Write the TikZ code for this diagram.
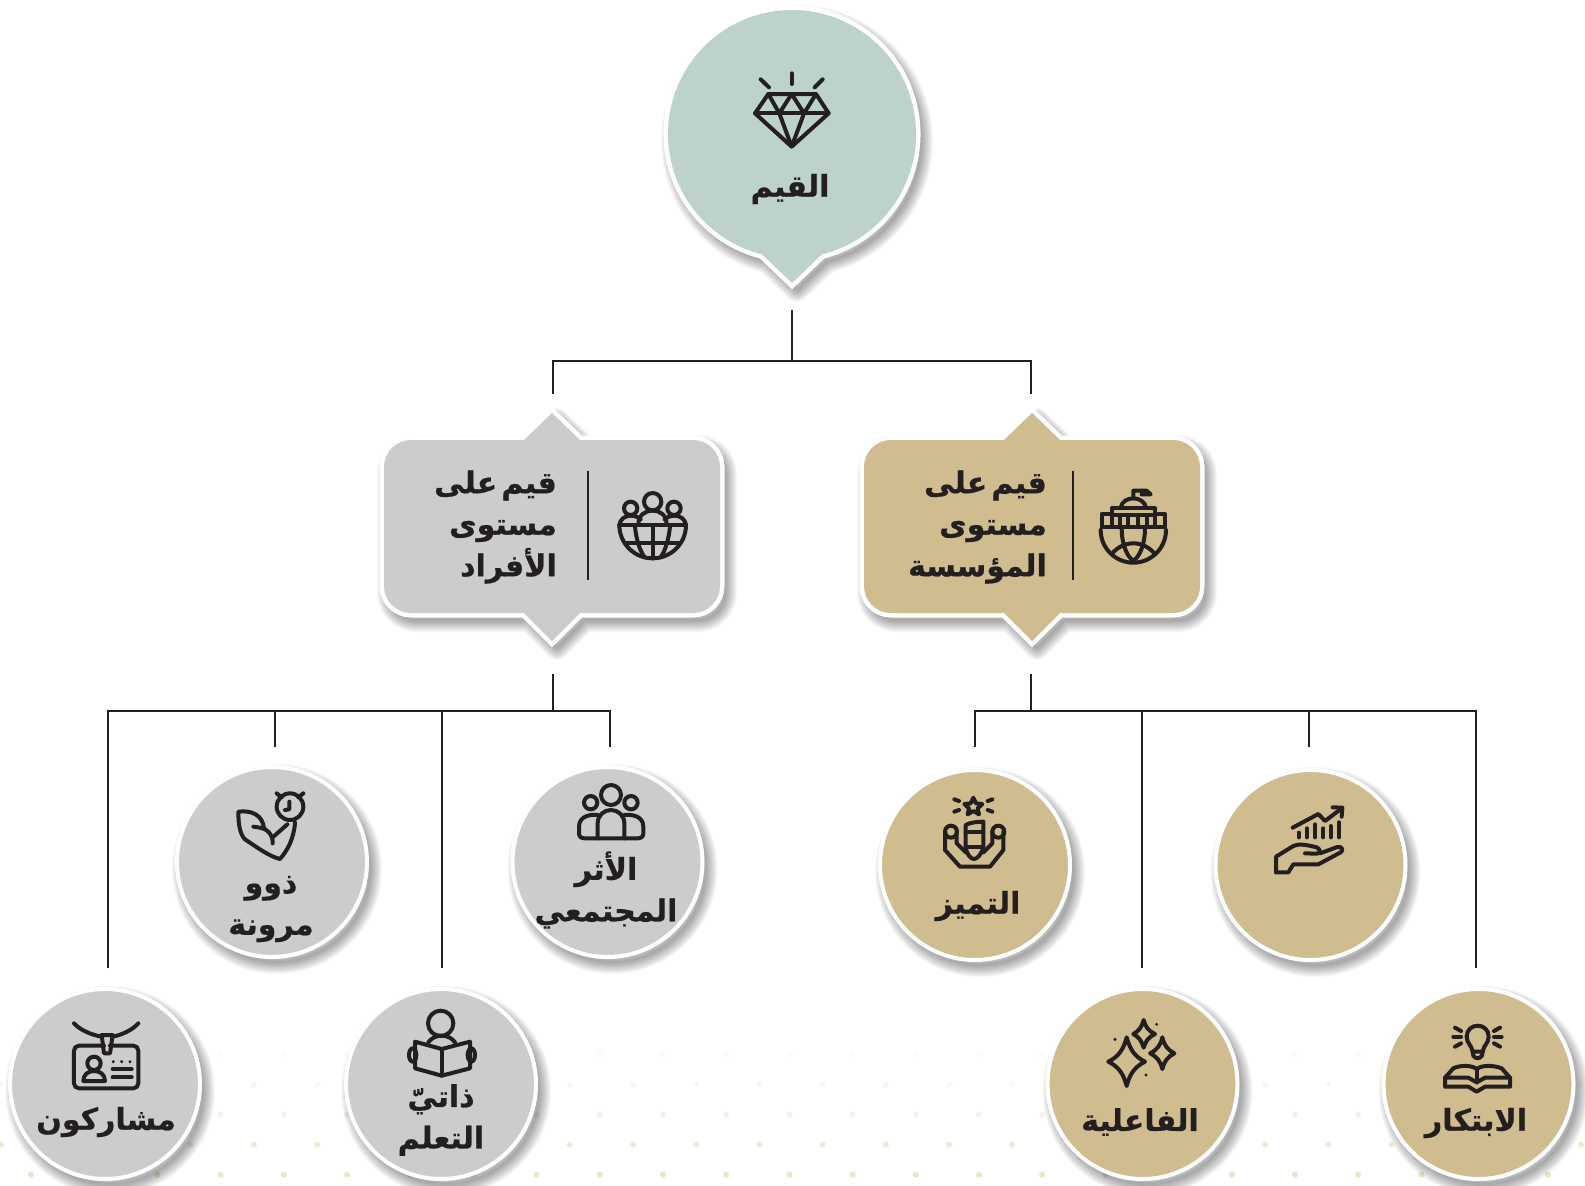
\documentclass[tikz,border=0pt]{standalone}
\usepackage{fontspec}
\newfontfamily\arabicfont[Script=Arabic,WordSpace=0.4,BoldFeatures={FakeBold=0.6}]{DejaVu Sans}
\TeXXeTstate=1
\definecolor{ink}{HTML}{231F20}
\definecolor{sage}{HTML}{BDD3CA}
\definecolor{greyfill}{HTML}{CCCCCC}
\definecolor{tan}{HTML}{CFBC8F}
\definecolor{dotc}{HTML}{EBE5CC}
\newcommand\ar[1]{\beginR #1\endR}
\newcommand\softshadow[1]{%
  \foreach \w in {24,22,...,2}{\path[draw=black,line join=round,opacity=.032,line width=\w pt,shift={(5,7)}] #1;}%
}
\newcommand\tagpath[1]{({#1-141},440) -- ({#1-28},440) -- (#1,413) -- ({#1+28},440) -- ({#1+141},440) arc[start angle=-90,end angle=0,radius=27] -- ({#1+168},586) arc[start angle=0,end angle=90,radius=27] -- ({#1+28},613) -- (#1,641) -- ({#1-28},613) -- ({#1-141},613) arc[start angle=90,end angle=180,radius=27] -- ({#1-168},467) arc[start angle=180,end angle=270,radius=27] -- cycle}
\newcommand\rootpath{({792+124*cos(104)},{134+124*sin(104)}) -- (792,283) -- ({792+124*cos(76)},{134+124*sin(76)}) arc[start angle=76,end angle=-256,radius=124] -- cycle}
\newcommand\valcircle[4]{%
  \softshadow{({#2},{#3}) circle[radius=93]}%
  \node[valnode,fill=#4] (#1) at (#2,#3) {};%
}
\tikzset{
  link/.style={draw=ink,line width=2.7pt},
  lbl/.style={text=ink,align=center,inner sep=0pt,font=\arabicfont\bfseries\fontsize{30}{41.5}\selectfont},
  taglbl/.style={lbl,align=right,anchor=east,font=\arabicfont\bfseries\fontsize{30}{41.5}\selectfont},
  valnode/.style={circle,draw=white,line width=4pt,inner sep=0pt,minimum size=190pt},
  icon/.style={draw=ink,line width=4pt,line cap=round,line join=round},
  zoomed/.style={x=.33333pt,y=-.33333pt},
  rule/.style={draw=ink,line width=2.6pt}
}
\begin{document}
\begin{tikzpicture}[x=1pt,y=-1pt]
\path[fill=white,use as bounding box] (0,0) rectangle (1585,1186);
% dotted ground
\foreach \k in {0,...,24}{
  \fill[dotc] ({31+63.2*\k},1174.7) circle[radius=3];
  \fill[dotc,opacity=.5] ({31+63.2*\k},1114.7) circle[radius=3];
  \fill[dotc,opacity=.12] ({31+63.2*\k},1054.7) circle[radius=3];
}
\foreach \k in {0,...,25}{
  \fill[dotc,opacity=.8] ({1+63.2*\k},1144.7) circle[radius=3];
  \fill[dotc,opacity=.28] ({1+63.2*\k},1084.7) circle[radius=3];
}
% connector points
\coordinate (rootout) at (792,310);
\coordinate (rootjoin) at (792,361);
\coordinate (joinL) at (553,361);
\coordinate (joinR) at (1031,361);
\coordinate (inL) at (553,394);
\coordinate (inR) at (1031,394);
\coordinate (outL) at (553,674);
\coordinate (midL) at (553,711);
\coordinate (outR) at (1031,674);
\coordinate (midR) at (1031,711);
\coordinate (a1) at (108,711); \coordinate (a1e) at (108,968);
\coordinate (a2) at (275,711); \coordinate (a2e) at (275,747);
\coordinate (a3) at (442,711); \coordinate (a3e) at (442,968);
\coordinate (a4) at (610,711); \coordinate (a4e) at (610,747);
\coordinate (b1) at (975,711); \coordinate (b1e) at (975,747);
\coordinate (b2) at (1142,711); \coordinate (b2e) at (1142,968);
\coordinate (b3) at (1309,711); \coordinate (b3e) at (1309,747);
\coordinate (b4) at (1476,711); \coordinate (b4e) at (1476,968);
\draw[link] (rootout) -- (rootjoin);
\draw[link,line join=miter] (inL) -- (joinL) -- (joinR) -- (inR);
\draw[link] (outL) -- (midL);
\draw[link] (outR) -- (midR);
\draw[link,line join=miter] (a1e) -- (a1) -- (a4) -- (a4e);
\draw[link] (a2) -- (a2e);
\draw[link] (a3) -- (a3e);
\draw[link,line join=miter] (b1e) -- (b1) -- (b4) -- (b4e);
\draw[link] (b2) -- (b2e);
\draw[link] (b3) -- (b3e);
% root
\softshadow{\rootpath}
\path[draw=white,fill=white,line width=9pt,line join=miter] \rootpath;
\fill[sage] \rootpath;
\node[lbl] (rootlbl) at (790,189) {\ar{القيم}};
% tag boxes
\softshadow{\tagpath{552}}
\path[draw=white,fill=white,line width=9pt,line join=miter] \tagpath{552};
\fill[greyfill] \tagpath{552};
\softshadow{\tagpath{1032}}
\path[draw=white,fill=white,line width=9pt,line join=miter] \tagpath{1032};
\fill[tan] \tagpath{1032};
\node[taglbl] (taglblL) at (557,527) {\ar{قيم على}\\\ar{مستوى}\\\ar{الأفراد}};
\node[taglbl] (taglblR) at (1047,527) {\ar{قيم على}\\\ar{مستوى}\\\ar{المؤسسة}};
\coordinate (ruleLa) at (588,471); \coordinate (ruleLb) at (588,580);
\coordinate (ruleRa) at (1073,471); \coordinate (ruleRb) at (1073,580);
\draw[rule] (ruleLa) -- (ruleLb);
\draw[rule] (ruleRa) -- (ruleRb);
% circles
\valcircle{c1}{272}{862}{greyfill}
\valcircle{c2}{607.5}{862}{greyfill}
\valcircle{c3}{975}{865}{tan}
\valcircle{c4}{1310.5}{865}{tan}
\valcircle{c5}{105}{1084}{greyfill}
\valcircle{c6}{441}{1084}{greyfill}
\valcircle{c7}{1142.5}{1084}{tan}
\valcircle{c8}{1478.5}{1084}{tan}
\node[lbl] (l1) at (271,909) {\ar{ذوو}\\\ar{مرونة}};
\node[lbl] (l2) at (606,890) {\ar{الأثر}\\\ar{المجتمعي}};
\node[lbl] (l3) at (978,906) {\ar{التميز}};
\node[lbl] (l5) at (106,1122) {\ar{مشاركون}};
\node[lbl] (l6) at (441,1120) {\ar{ذاتيّ}\\\ar{التعلم}};
\node[lbl] (l7) at (1140,1122) {\ar{الفاعلية}};
\node[lbl] (l8) at (1476,1123) {\ar{الابتكار}};
% diamond icon
\begin{scope}[shift={(640,0)},zoomed]
\draw[icon] (385,282) -- (528,282) -- (566,340) -- (455,440) -- (345,340) -- cycle;
\draw[icon] (345,340) -- (566,340);
\draw[icon] (385,282) -- (418,340) -- (455,282) -- (492,340) -- (528,282);
\draw[icon] (418,340) -- (455,440) -- (492,340);
\draw[icon] (362,238) -- (387,262);
\draw[icon] (455,220) -- (455,252);
\draw[icon] (548,238) -- (524,262);
\end{scope}
% globe of people
\begin{scope}[shift={(370,400)},zoomed]
\draw[icon] (848,305) circle[radius=26];
\draw[icon] (782,325) circle[radius=20];
\draw[icon] (912,325) circle[radius=20];
\draw[icon] (748,375) arc[start angle=180,end angle=0,radius=100];
\draw[icon] (748,375) -- (948,375);
\draw[icon] (768,430) -- (928,430);
\draw[icon] (805,375) .. controls (805,345) and (825,332) .. (848,332) .. controls (871,332) and (890,345) .. (890,375);
\draw[icon] (748,375) .. controls (750,358) and (765,347) .. (782,347) .. controls (795,347) and (805,352) .. (812,358);
\draw[icon] (948,375) .. controls (946,358) and (931,347) .. (914,347) .. controls (901,347) and (891,352) .. (884,358);
\draw[icon] (848,375) -- (848,475);
\draw[icon] (795,378) .. controls (798,415) and (808,450) .. (824,472);
\draw[icon] (900,378) .. controls (897,415) and (887,450) .. (872,472);
\end{scope}
% capitol globe
\begin{scope}[shift={(850,400)},zoomed]
\draw[icon] (752,390) arc[start angle=180,end angle=0,radius=98];
\draw[icon] (755,380) -- (755,342) -- (785,342) -- (785,325) -- (915,325) -- (915,342) -- (945,342) -- (945,380) -- cycle;
\draw[icon] (785,345) -- (915,345);
\foreach \p in {785,810,835,865,890,915}{\draw[icon] (\p,345) -- (\p,380);}
\draw[icon] (812,323) .. controls (815,305) and (832,295) .. (850,295) .. controls (868,295) and (885,305) .. (888,323);
\draw[icon] (850,295) -- (850,272) -- (890,272) -- (902,283) -- (875,283);
\draw[icon] (815,385) .. controls (815,430) and (830,470) .. (850,482) .. controls (870,470) and (885,430) .. (885,385);
\draw[icon] (785,462) .. controls (805,438) and (830,430) .. (850,430) .. controls (870,430) and (895,438) .. (915,462);
\end{scope}
% flexed arm with clock
\begin{scope}[shift={(170,760)},zoomed]
\draw[icon] (360,140) circle[radius=40];
\draw[icon] (320,100) -- (335,112);
\draw[icon] (400,100) -- (385,112);
\draw[icon] (358,125) -- (358,148) -- (345,150);
\draw[icon] (375,188) .. controls (372,235) and (352,272) .. (330,297) .. controls (300,290) and (265,265) .. (225,238) .. controls (212,225) and (205,200) .. (205,155) .. controls (245,150) and (278,165) .. (282,205);
\draw[icon] (250,200) -- (270,203) .. controls (290,205) and (310,225) .. (308,250);
\draw[icon] (308,232) -- (352,193);
\end{scope}
% three people
\begin{scope}[shift={(505,760)},zoomed]
\draw[icon] (318,105) circle[radius=30];
\draw[icon] (257,128) circle[radius=20];
\draw[icon] (378,128) circle[radius=20];
\draw[icon] (278,235) -- (278,190) .. controls (278,165) and (298,150) .. (318,150) .. controls (338,150) and (358,165) .. (358,190) -- (358,235);
\draw[icon] (278,165) .. controls (262,163) and (222,165) .. (222,200) -- (222,220) .. controls (222,230) and (228,235) .. (240,235) -- (398,235) .. controls (408,235) and (415,230) .. (415,220) -- (415,200) .. controls (415,165) and (375,163) .. (358,165);
\end{scope}
% star over raised hands
\begin{scope}[shift={(875,765)},zoomed]
\draw[icon] (295,98) -- (303,115) -- (322,117) -- (308,130) -- (312,148) -- (295,138) -- (278,148) -- (282,130) -- (268,117) -- (287,115) -- cycle;
\draw[icon] (238,103) -- (252,108);
\draw[icon] (238,140) -- (252,135);
\draw[icon] (352,103) -- (338,108);
\draw[icon] (352,140) -- (338,135);
\draw[icon] (272,245) -- (272,180) .. controls (285,172) and (310,170) .. (325,170) -- (325,245) .. controls (320,270) and (305,282) .. (297,282) .. controls (288,282) and (275,270) .. (272,245);
\draw[icon] (272,200) -- (325,200);
\draw[icon] (272,245) -- (325,245);
\draw[icon] (228,200) circle[radius=18];
\draw[icon] (370,200) circle[radius=18];
\draw[icon] (210,200) -- (210,255) -- (255,305) -- (345,305) -- (385,255) -- (385,200);
\draw[icon] (245,200) -- (245,235) -- (272,262);
\draw[icon] (352,200) -- (352,235) -- (325,262);
\end{scope}
% hand with chart
\begin{scope}[shift={(1210,765)},zoomed]
\draw[icon] (248,188) -- (325,147) -- (345,168) -- (395,130);
\draw[icon] (368,127) -- (397,128) -- (395,155);
\foreach \p/\q in {266/203,290/190,315/178,340/190,362/183,387/172}{\draw[icon] (\p,\q) -- (\p,217);}
\draw[icon] (198,322) -- (198,275) -- (250,243) .. controls (265,236) and (285,238) .. (320,247) .. controls (332,252) and (332,265) .. (320,266) -- (285,265);
\draw[icon] (198,322) -- (235,322) -- (250,298) -- (325,298) -- (392,262) .. controls (402,255) and (395,243) .. (382,246) -- (330,265);
\end{scope}
% badge
\begin{scope}[shift={(0,985)},zoomed]
\draw[icon] (222,115) .. controls (240,135) and (275,150) .. (305,155);
\draw[icon] (415,115) .. controls (397,135) and (365,150) .. (338,155);
\draw[icon] (305,150) -- (338,150) -- (330,205) -- (312,205) -- cycle;
\draw[icon,rounded corners=5pt] (312,182) -- (222,182) -- (222,310) -- (415,310) -- (415,182) -- (330,182);
\draw[icon] (282,235) circle[radius=20];
\draw[icon] (250,288) .. controls (250,268) and (265,258) .. (282,258) .. controls (300,258) and (315,268) .. (315,288) -- cycle;
\foreach \p in {340,365,390}{\fill[ink] (\p,230) circle[radius=5];}
\draw[icon] (338,252) -- (395,252);
\draw[icon] (338,277) -- (395,277);
\end{scope}
% reader
\begin{scope}[shift={(340,985)},zoomed]
\draw[icon] (302,115) circle[radius=38];
\draw[icon] (225,170) -- (305,192) -- (390,170) -- (390,250) -- (305,272) -- (225,250) -- cycle;
\draw[icon] (305,192) -- (305,272);
\draw[icon] (265,172) .. controls (275,158) and (290,152) .. (305,152) .. controls (320,152) and (335,158) .. (345,172);
\draw[icon] (218,210) ellipse[x radius=11,y radius=20];
\draw[icon] (394,210) ellipse[x radius=11,y radius=20];
\end{scope}
% sparkles
\begin{scope}[shift={(1040,985)},zoomed]
\draw[icon] (260,157) .. controls (270,195) and (285,215) .. (315,230) .. controls (285,245) and (270,265) .. (260,303) .. controls (250,265) and (235,245) .. (205,230) .. controls (235,215) and (250,195) .. (260,157) -- cycle;
\draw[icon] (311,105) .. controls (316,125) and (325,138) .. (345,147) .. controls (325,156) and (316,170) .. (311,188) .. controls (306,170) and (297,156) .. (280,147) .. controls (297,138) and (306,125) .. (311,105) -- cycle;
\draw[icon] (367,157) .. controls (372,180) and (383,195) .. (403,205) .. controls (383,215) and (372,230) .. (367,252) .. controls (362,230) and (351,215) .. (330,205) .. controls (351,195) and (362,180) .. (367,157) -- cycle;
\fill[ink] (350,118) circle[radius=5];
\fill[ink] (225,163) circle[radius=5];
\fill[ink] (318,270) circle[radius=5];
\end{scope}
% bulb over book
\begin{scope}[shift={(1375,985)},zoomed]
\draw[icon] (293,200) .. controls (290,180) and (275,175) .. (275,155) .. controls (275,135) and (290,122) .. (308,122) .. controls (326,122) and (341,135) .. (341,155) .. controls (341,175) and (326,180) .. (323,200);
\draw[icon] (293,200) -- (323,200) -- (321,212) .. controls (315,222) and (300,222) .. (295,212) -- cycle;
\draw[icon] (240,128) -- (258,138);
\draw[icon] (235,155) -- (258,155);
\draw[icon] (240,185) -- (258,175);
\draw[icon] (375,128) -- (357,138);
\draw[icon] (380,155) -- (357,155);
\draw[icon] (375,185) -- (357,175);
\draw[icon] (305,252) .. controls (290,240) and (255,240) .. (235,250) -- (210,278) -- (210,305) -- (280,305) -- (305,320) -- (330,305) -- (405,305) -- (405,278) -- (380,250) .. controls (355,240) and (320,240) .. (305,252);
\draw[icon] (210,278) -- (280,278) -- (305,292) -- (330,278) -- (405,278);
\draw[icon] (305,252) -- (305,292);
\end{scope}
\end{tikzpicture}
\end{document}
